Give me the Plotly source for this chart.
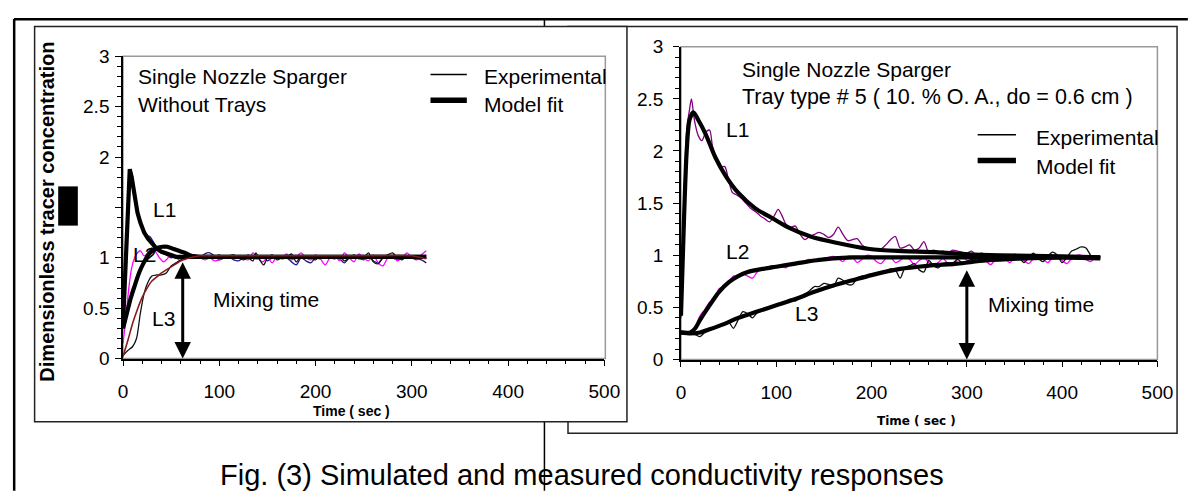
import plotly.graph_objects as go

# The page has the browser's default 8px body margin, so the figure is drawn
# 16px smaller than the window and every screen position is shifted by 8px.
WIN_W, WIN_H = 1204, 502
OFF = 8
W, H = WIN_W - 2 * OFF, WIN_H - 2 * OFF
FONT = "Liberation Sans, Arial, sans-serif"

# ---------------- Left panel data (Without trays) ----------------
L_t_exp1 = [0, 3, 6, 8, 10, 13, 16, 20, 25, 28, 32, 36, 40, 45, 50, 55, 60, 65, 70, 75, 80, 85, 90, 95,
            100, 105, 110, 115, 120, 125, 130, 135, 140, 145, 150, 155, 160, 165, 170, 175, 180, 185, 190,
            195, 200, 205, 210, 215, 220, 225, 230, 235, 240, 245, 250, 255, 260, 265, 270, 275, 280, 285,
            290, 295, 300, 305, 310, 315]
L_exp1 = [0.35, 0.9, 1.75, 1.86, 1.8, 1.55, 1.4, 1.3, 1.22, 1.21, 1.15, 1.08, 1.05, 1.03, 1.0, 1.02, 1.0,
          1.01, 1.03, 1.02, 1.0, 1.04, 1.05, 1.02, 0.98, 1.0, 1.01, 0.98, 0.97, 1.0, 1.03, 1.0, 0.99, 1.02,
          0.97, 1.0, 1.02, 0.99, 1.0, 0.96, 0.93, 1.0, 0.97, 0.95, 1.0, 0.99, 1.01, 1.02, 1.0, 0.99, 0.95,
          1.0, 1.02, 1.0, 0.98, 1.01, 0.97, 0.95, 1.0, 1.03, 1.0, 0.98, 1.01, 1.0, 1.02, 0.99, 0.98, 0.95]

L_t_exp2 = [0, 3, 6, 9, 12, 15, 18, 22, 26, 30, 34, 38, 42, 46, 50, 55, 60, 65, 70, 75, 80, 85, 90, 95,
            100, 105, 110, 115, 120, 125, 130, 135, 140, 145, 150, 155, 160, 165, 170, 175, 180, 185, 190,
            195, 200, 205, 210, 215, 220, 225, 230, 235, 240, 245, 250, 255, 260, 265, 270, 275, 280, 285,
            290, 295, 300, 305, 310, 315]
L_exp2 = [0.15, 0.4, 0.7, 0.9, 1.0, 1.05, 1.07, 1.02, 1.05, 1.1, 1.06, 1.0, 0.96, 0.99, 1.04, 1.0, 0.97,
          1.0, 1.02, 1.03, 1.0, 0.98, 1.0, 0.97, 0.98, 1.01, 1.0, 0.99, 1.02, 1.0, 0.98, 1.05, 1.0, 0.96,
          1.0, 0.95, 1.02, 1.0, 1.04, 0.98, 1.01, 1.05, 1.0, 0.98, 1.03, 0.99, 0.93, 1.0, 1.02, 0.97, 1.05,
          1.0, 0.96, 1.04, 1.0, 0.97, 1.03, 0.95, 0.92, 1.0, 1.02, 0.97, 1.0, 1.05, 1.0, 0.98, 1.03, 1.07]

L_t_exp3 = [0, 5, 10, 14, 18, 22, 26, 30, 35, 40, 45, 50, 55, 60, 65, 70, 75, 80, 85, 90, 95, 100, 105,
            110, 115, 120, 125, 130, 135, 138, 142, 146, 150, 155, 160, 165, 170, 175, 180, 185, 190, 195,
            200, 205, 210, 215, 220, 225, 230, 235, 240, 245, 250, 255, 260, 265, 270, 275, 280, 285, 290,
            295, 300, 305, 310, 315]
L_exp3 = [0.03, 0.08, 0.12, 0.2, 0.45, 0.65, 0.76, 0.82, 0.83, 0.83, 0.85, 0.92, 0.95, 0.98, 1.0, 1.02,
          1.02, 1.01, 1.0, 1.0, 1.01, 1.03, 1.0, 1.02, 1.03, 1.0, 0.98, 1.0, 0.97, 1.05, 0.98, 0.93, 1.0,
          1.03, 0.98, 1.0, 1.01, 1.04, 0.96, 1.02, 1.01, 1.0, 0.98, 1.02, 1.01, 1.0, 0.99, 1.02, 0.97, 1.0,
          1.03, 0.99, 1.0, 1.05, 0.96, 0.94, 1.0, 1.03, 1.05, 1.0, 0.98, 1.02, 1.0, 0.99, 1.01, 1.0]

L_t_mod1 = [0, 2, 4, 6, 7, 9, 12, 15, 18, 22, 26, 30, 35, 40, 45, 50, 55, 60, 65, 70, 80, 100, 150, 200,
            250, 315]
L_mod1 = [0.34, 0.8, 1.35, 1.82, 1.88, 1.8, 1.6, 1.45, 1.35, 1.25, 1.19, 1.14, 1.09, 1.06, 1.04, 1.02,
          1.01, 1.01, 1.01, 1.01, 1.01, 1.01, 1.01, 1.01, 1.01, 1.01]

L_t_mod2 = [0, 4, 8, 12, 17, 22, 27, 32, 36, 41, 46, 52, 58, 64, 71, 80, 90, 315]
L_mod2 = [0.3, 0.45, 0.6, 0.72, 0.86, 0.96, 1.04, 1.08, 1.1, 1.11, 1.11, 1.09, 1.07, 1.05, 1.02, 1.01,
          1.01, 1.01]

L_t_mod3 = [0, 5, 10, 15, 20, 25, 30, 35, 40, 45, 50, 55, 60, 70, 80, 100, 150, 200, 250, 300, 310, 315]
L_mod3 = [0.02, 0.18, 0.35, 0.49, 0.61, 0.7, 0.77, 0.81, 0.85, 0.88, 0.91, 0.94, 0.97, 1.0, 1.02, 1.02,
          1.02, 1.02, 1.02, 1.02, 1.0, 0.99]

L_mix_time = 62
L_mix_top = 0.97

# ---------------- Right panel data (Tray type #5) ----------------
R_t_exp1 = [0, 3, 6, 9, 11, 14, 18, 22, 26, 30, 33, 37, 42, 46, 50, 54, 58, 63, 68, 73, 78, 83, 88, 93,
            98, 102, 106, 110, 115, 120, 125, 130, 135, 140, 145, 150, 155, 160, 165, 170, 175, 180, 185,
            190, 195, 200, 205, 210, 215, 220, 225, 230, 235, 240, 245, 250, 255, 260, 265, 270, 275, 280,
            285, 290, 295, 300, 305, 310, 315, 320, 325, 330]
R_exp1 = [0.4, 1.5, 2.2, 2.4, 2.5, 2.3, 2.15, 2.1, 2.18, 2.2, 2.05, 1.92, 1.85, 1.85, 1.72, 1.6, 1.58,
          1.55, 1.5, 1.45, 1.42, 1.38, 1.35, 1.32, 1.38, 1.44, 1.38, 1.3, 1.27, 1.28, 1.2, 1.15, 1.18, 1.2,
          1.22, 1.2, 1.17, 1.2, 1.27, 1.2, 1.14, 1.15, 1.16, 1.1, 1.07, 1.06, 1.05, 1.06, 1.1, 1.15, 1.18,
          1.07, 1.08, 1.1, 1.05, 1.07, 1.13, 1.03, 1.05, 1.03, 1.04, 1.02, 1.05, 1.04, 1.03, 1.02, 1.04,
          1.0, 1.02, 1.01, 1.0, 1.0]

R_t_exp2 = [15, 20, 25, 30, 35, 40, 45, 50, 55, 60, 65, 70, 75, 80, 85, 90, 95, 100, 105, 110, 115, 120,
            125, 130, 135, 140, 145, 150, 155, 160, 165, 170, 175, 180, 185, 190, 195, 200, 205, 210, 215,
            220, 225, 230, 235, 240, 245, 250, 255, 260, 265, 270, 275, 280, 285, 290, 295, 300, 305, 310,
            315, 320, 325, 330, 335, 340, 345, 350, 355, 360, 365, 370, 375, 380, 385, 390, 395, 400, 405,
            410, 415, 420, 425, 430, 435, 440]
R_exp2 = [0.3, 0.42, 0.48, 0.55, 0.57, 0.68, 0.7, 0.74, 0.8, 0.8, 0.82, 0.8, 0.78, 0.84, 0.87, 0.88, 0.9,
          0.9, 0.9, 0.88, 0.92, 0.91, 0.93, 0.95, 0.96, 0.95, 0.97, 0.96, 0.98, 0.99, 0.97, 0.94, 0.99,
          0.98, 0.93, 0.96, 1.0, 0.99, 0.94, 0.92, 0.97, 0.98, 0.93, 0.95, 0.99, 0.96, 0.91, 0.95, 0.98,
          0.93, 0.9, 0.93, 0.97, 0.92, 0.9, 0.96, 0.99, 0.95, 0.92, 0.97, 1.0, 0.95, 0.91, 0.96, 1.0, 0.97,
          0.93, 0.98, 1.0, 0.95, 0.92, 0.97, 1.0, 0.96, 0.93, 0.98, 1.0, 0.95, 0.92, 0.97, 1.0, 1.0, 0.96,
          0.94, 0.98, 0.98]

R_t_exp3 = [0, 5, 10, 15, 20, 25, 30, 35, 40, 45, 50, 55, 60, 65, 70, 75, 80, 85, 90, 95, 100, 105, 110,
            115, 120, 125, 130, 135, 140, 145, 150, 155, 160, 165, 170, 175, 180, 185, 190, 195, 200, 205,
            210, 215, 220, 225, 230, 235, 240, 245, 250, 255, 260, 265, 270, 275, 280, 285, 290, 295, 300,
            305, 310, 315, 320, 325, 330, 335, 340, 345, 350, 355, 360, 365, 370, 375, 380, 385, 390, 395,
            400, 405, 410, 415, 420, 425, 430, 435, 440]
R_exp3 = [0.25, 0.25, 0.25, 0.24, 0.22, 0.26, 0.28, 0.3, 0.32, 0.34, 0.36, 0.3, 0.38, 0.46, 0.44, 0.4,
          0.45, 0.48, 0.49, 0.5, 0.52, 0.54, 0.56, 0.58, 0.56, 0.6, 0.63, 0.66, 0.7, 0.7, 0.73, 0.72, 0.7,
          0.78, 0.76, 0.72, 0.72, 0.78, 0.8, 0.8, 0.82, 0.83, 0.84, 0.85, 0.87, 0.86, 0.78, 0.88, 0.9,
          0.92, 0.86, 0.84, 0.95, 0.9, 0.88, 0.92, 0.93, 0.92, 0.96, 0.93, 0.94, 0.96, 0.95, 0.97, 0.98,
          0.95, 0.98, 1.0, 0.98, 0.96, 1.01, 0.98, 0.93, 0.98, 1.02, 0.97, 0.94, 0.99, 1.03, 1.0, 0.93,
          0.98, 1.04, 1.06, 1.08, 1.07, 1.0, 0.97, 0.99]

R_t_mod1 = [0, 3, 6, 9, 13, 18, 26, 36, 47, 60, 78, 95, 112, 136, 163, 198, 232, 267, 301, 335, 400, 440]
R_mod1 = [0.42, 1.3, 2.0, 2.3, 2.37, 2.3, 2.16, 1.94, 1.76, 1.6, 1.45, 1.36, 1.27, 1.18, 1.12, 1.06,
          1.04, 1.03, 1.01, 1.0, 0.99, 0.98]

R_t_mod2 = [0, 10, 15, 20, 30, 40, 50, 60, 70, 80, 100, 120, 140, 160, 180, 200, 250, 300, 350, 400, 440]
R_mod2 = [0.26, 0.26, 0.3, 0.38, 0.52, 0.65, 0.74, 0.8, 0.84, 0.86, 0.89, 0.92, 0.95, 0.97, 0.98, 0.98,
          0.98, 0.98, 0.98, 0.98, 0.97]

R_t_mod3 = [0, 10, 20, 30, 45, 60, 80, 100, 120, 140, 160, 180, 200, 230, 260, 290, 320, 360, 400, 440]
R_mod3 = [0.26, 0.25, 0.26, 0.29, 0.34, 0.4, 0.46, 0.52, 0.58, 0.65, 0.71, 0.76, 0.81, 0.87, 0.9, 0.92,
          0.95, 0.97, 0.98, 0.98]

R_mix_time = 300
R_mix_top = 0.87

# ---------------- axis tick labels ----------------
x_tickvals = [0, 100, 200, 300, 400, 500]
x_ticktext = ["0", "100", "200", "300", "400", "500"]
y_tickvals = [0, 0.5, 1, 1.5, 2, 2.5, 3]
L_y_ticktext = ["0", "0.5", "1", "", "2", "2.5", "3"]
R_y_ticktext = ["0", "0.5", "1", "1.5", "2", "2.5", "3"]


def px(x):
    """screen x (window pixels) -> paper fraction"""
    return (x - OFF) / W


def py(y):
    """screen y (window pixels) -> paper fraction"""
    return 1 - (y - OFF) / H


fig = go.Figure()

THIN = 1.3
THICK = 4.2


def add(x, y, color, width, xa, ya, smooth=True):
    fig.add_trace(go.Scatter(
        x=x, y=y, mode="lines", xaxis=xa, yaxis=ya, showlegend=False, hoverinfo="skip",
        line=dict(color=color, width=width, shape="spline" if smooth else "linear",
                  smoothing=0.8 if smooth else 0)))


# left panel
add(L_t_exp1, L_exp1, "#1a1a8c", THIN, "x", "y")
add(L_t_exp2, L_exp2, "#ff00ff", THIN, "x", "y")
add(L_t_exp3, L_exp3, "#111111", THIN, "x", "y")
add(L_t_mod1, L_mod1, "#000000", THICK, "x", "y", smooth=False)
add(L_t_mod2, L_mod2, "#000000", THICK, "x", "y")
add(L_t_mod3, L_mod3, "#8b1a1a", 1.6, "x", "y")

# right panel
add(R_t_exp1, R_exp1, "#800080", THIN, "x2", "y2")
add(R_t_exp2, R_exp2, "#ff00ff", THIN, "x2", "y2")
add(R_t_exp3, R_exp3, "#111111", THIN, "x2", "y2")
add(R_t_mod1, R_mod1, "#000000", THICK, "x2", "y2")
add(R_t_mod2, R_mod2, "#000000", THICK, "x2", "y2")
add(R_t_mod3, R_mod3, "#000000", THICK, "x2", "y2")

shapes = []
# outer frame (as close to the window's top/left edge as the page margin allows)
shapes.append(dict(type="line", xref="paper", yref="paper", x0=px(9), x1=px(1204), y0=py(9.2), y1=py(9.2),
                   line=dict(color="black", width=2.5), layer="below"))
shapes.append(dict(type="line", xref="paper", yref="paper", x0=px(9.2), x1=px(9.2), y0=py(9), y1=py(502),
                   line=dict(color="black", width=2.5), layer="below"))
shapes.append(dict(type="line", xref="paper", yref="paper", x0=px(549), x1=px(549), y0=py(9), y1=py(502),
                   line=dict(color="black", width=1.5), layer="below"))
# right panel box then left panel box (covers overlap)
shapes.append(dict(type="rect", xref="paper", yref="paper", x0=px(573), x1=px(1193), y0=py(17), y1=py(442),
                   line=dict(color="#222", width=1.5), fillcolor="white", layer="below"))
shapes.append(dict(type="rect", xref="paper", yref="paper", x0=px(30), x1=px(633), y0=py(17), y1=py(430),
                   line=dict(color="#222", width=1.5), fillcolor="white", layer="below"))
# plot-area gray frames
shapes.append(dict(type="rect", xref="paper", yref="paper", x0=px(120), x1=px(611), y0=py(48), y1=py(364),
                   line=dict(color="#999", width=1.5), layer="below"))
shapes.append(dict(type="rect", xref="paper", yref="paper", x0=px(688), x1=px(1173), y0=py(38), y1=py(365),
                   line=dict(color="#999", width=1.5), layer="below"))
# black block on left y title
shapes.append(dict(type="rect", xref="paper", yref="paper", x0=px(54), x1=px(74), y0=py(184), y1=py(225),
                   line=dict(width=0), fillcolor="black", layer="above"))
# legend samples
for (x0, x1, yt, yk) in [(433, 470, 67, 94), (990, 1029, 130, 157)]:
    shapes.append(dict(type="line", xref="paper", yref="paper", x0=px(x0), x1=px(x1), y0=py(yt), y1=py(yt),
                       line=dict(color="black", width=1.5)))
    shapes.append(dict(type="line", xref="paper", yref="paper", x0=px(x0), x1=px(x1), y0=py(yk), y1=py(yk),
                       line=dict(color="black", width=5.5)))

ann = []


def text(x, y, s, size=21, anchor="left", bold=False, angle=0, family=FONT):
    ann.append(dict(x=px(x), y=py(y), xref="paper", yref="paper", text=s, showarrow=False,
                    xanchor=anchor, yanchor="middle", textangle=angle,
                    font=dict(family=family, size=size, color="black",
                              weight="bold" if bold else "normal")))


# left panel texts
text(133, 69, "Single Nozzle Sparger")
text(133, 98, "Without Trays")
text(485, 69, "Experimental")
text(485, 98, "Model fit")
text(148, 208, "L1")
text(128, 255, "L2")
text(147, 322, "L3")
text(210, 302, "Mixing time")
text(353, 419, "Time ( sec )", size=14, anchor="center", bold=True)
text(43, 210, "Dimensionless tracer concentration", size=20, anchor="center", bold=True, angle=-90)

# right panel texts
text(748, 62, "Single Nozzle Sparger")
text(748, 91, "Tray type # 5 ( 10. % O. A., do = 0.6 cm )", size=21.5)
text(1047, 133, "Experimental")
text(1047, 163, "Model fit")
text(732, 125, "L1")
text(732, 252, "L2")
text(802, 317, "L3")
text(998, 307, "Mixing time")
text(928, 429, "Time ( sec )", size=12, anchor="center", bold=True, family="DejaVu Sans, sans-serif")

# caption
text(587, 486, "Fig. (3) Simulated and measured conductivity responses", size=29, anchor="center")

# mixing-time arrows
for (xa, ya, xm, top) in [("x", "y", L_mix_time, L_mix_top), ("x2", "y2", R_mix_time, R_mix_top)]:
    ann.append(dict(x=xm, y=0, ax=xm, ay=top, xref=xa, yref=ya, axref=xa, ayref=ya, text="",
                    showarrow=True, arrowhead=2, startarrowhead=2, arrowside="end+start",
                    arrowsize=1.1, startarrowsize=1.1, arrowwidth=3, arrowcolor="black"))

axis_common = dict(showgrid=False, zeroline=False, showline=True, linecolor="black", linewidth=1.5,
                   ticks="outside", ticklen=6, tickwidth=1.2, tickcolor="black",
                   tickfont=dict(family=FONT, size=19, color="black"))

fig.update_layout(
    width=W, height=H, autosize=False,
    margin=dict(l=0, r=0, t=0, b=0, pad=0),
    paper_bgcolor="white", plot_bgcolor="rgba(0,0,0,0)",
    showlegend=False,
    shapes=shapes, annotations=ann,
    xaxis=dict(domain=[px(120), px(610)], range=[0, 500], anchor="y", tickvals=x_tickvals,
               ticktext=x_ticktext, ticklabelstandoff=9,
               minor=dict(dtick=20, ticks="outside", ticklen=4, tickcolor="black"), **axis_common),
    yaxis=dict(domain=[py(364), py(48)], range=[0, 3], anchor="x", tickvals=y_tickvals,
               ticktext=L_y_ticktext, ticklabelstandoff=2,
               minor=dict(dtick=0.1, ticks="outside", ticklen=4, tickcolor="black"), **axis_common),
    xaxis2=dict(domain=[px(688), px(1173)], range=[0, 500], anchor="y2", tickvals=x_tickvals,
                ticktext=x_ticktext, ticklabelstandoff=9,
                minor=dict(dtick=20, ticks="outside", ticklen=4, tickcolor="black"), **axis_common),
    yaxis2=dict(domain=[py(365), py(38)], range=[0, 3], anchor="x2", tickvals=y_tickvals,
                ticktext=R_y_ticktext, ticklabelstandoff=6,
                minor=dict(dtick=0.1, ticks="outside", ticklen=4, tickcolor="black"), **axis_common),
)

fig.write_html("out.html", config={"displayModeBar": False})
